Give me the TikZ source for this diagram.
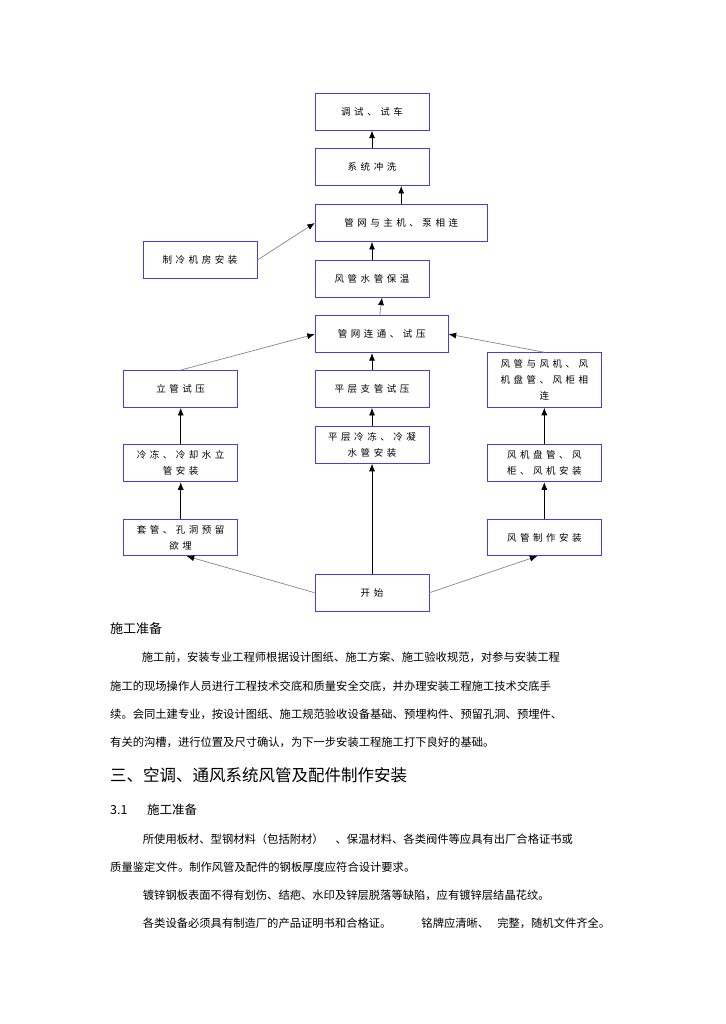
\documentclass[tikz,border=0pt]{standalone}
\usepackage{fontspec}
\setmainfont{Noto Sans CJK SC}
\newfontfamily\boxfont[LetterSpace=37]{Noto Sans CJK SC}
\usetikzlibrary{arrows.meta}

\definecolor{boxblue}{RGB}{64,64,232}
\definecolor{linegray}{RGB}{135,135,135}

\tikzset{
  stepbox/.style={draw=boxblue,line width=0.9pt,fill=white,minimum width=114pt,minimum height=37pt,
    inner sep=1pt,align=center,font=\boxfont\fontsize{9.5}{16}\selectfont},
  up/.style={draw=black,line width=0.7pt,-{Latex[length=7.5pt,width=6pt]}},
  slant/.style={draw=linegray,line width=0.7pt,-{Latex[length=7.5pt,width=6pt,color=black]}},
  bodytext/.style={anchor=west,inner sep=0pt,font=\fontsize{11.3}{13}\selectfont}
}

\begin{document}
\begin{tikzpicture}[x=1pt,y=-1pt]
\useasboundingbox[fill=white] (0,0) rectangle (725,1024);

\node[stepbox] (tiaoshi) at (372,111.7) {调试、试车};
\node[stepbox] (chongxi) at (372,167) {系统冲洗};
\node[stepbox,minimum width=172pt] (zhuji) at (401.2,223) {管网与主机、泵相连};
\node[stepbox] (jifang) at (200,260) {制冷机房安装};
\node[stepbox] (baowen) at (372,278.7) {风管水管保温};
\node[stepbox,minimum width=133pt] (liantong) at (381.7,334.2) {管网连通、试压};

\node[stepbox] (ligu) at (180.7,389) {立管试压};
\node[stepbox] (zhiguan) at (372,389) {平层支管试压};
\node[stepbox,minimum height=54.6pt] (fengji) at (544.3,380) {风管与风机、风\\机盘管、风柜相\\连};

\node[stepbox] (liguan) at (180.7,463.3) {冷冻、冷却水立\\管安装};
\node[stepbox] (pingceng) at (372,444.8) {平层冷冻、冷凝\\水管安装};
\node[stepbox] (panguan) at (544.3,463.3) {风机盘管、风\\柜、风机安装};

\node[stepbox,minimum height=36.4pt] (taoguan) at (180.7,537.5) {套管、孔洞预留\\欲埋};
\node[stepbox,minimum height=36.4pt] (zhizuo) at (544.3,537.5) {风管制作安装};
\node[stepbox] (kaishi) at (372,592.7) {开始};

\draw[up] (chongxi) -- (tiaoshi);
\draw[up] (zhuji.north) -- (zhuji.north |- chongxi.south);
\draw[up] (baowen) -- (baowen.south |- zhuji.south);
\draw[slant] (jifang.east) -- (zhuji.west);
\draw[slant] ([xshift=-2pt]liantong.north) -- ([xshift=10pt]baowen.south);

\draw[slant] (ligu.north) -- (liantong.west);
\draw[up] (zhiguan.north) -- (zhiguan.north |- liantong.south);
\draw[slant] (fengji.north) -- (liantong.east);

\draw[up] (liguan) -- (ligu);
\draw[up] (pingceng) -- (zhiguan);
\draw[up] (panguan) -- (fengji);

\draw[up] (taoguan) -- (liguan);
\draw[up] (kaishi) -- (pingceng);
\draw[up] (zhizuo) -- (panguan);

\draw[slant] (kaishi.west) -- ([xshift=6pt]taoguan.south);
\draw[slant] (kaishi.east) -- ([xshift=-7pt]zhizuo.south);

\node[bodytext,font=\fontsize{13}{15}\selectfont] (zhunbei) at (110,628.3) {施工准备};
\node[bodytext] (para1) at (141.7,657.7) {施工前，安装专业工程师根据设计图纸、施工方案、施工验收规范，对参与安装工程};
\node[bodytext] (para2) at (110,686) {施工的现场操作人员进行工程技术交底和质量安全交底，并办理安装工程施工技术交底手};
\node[bodytext] (para3) at (110,714) {续。会同土建专业，按设计图纸、施工规范验收设备基础、预埋构件、预留孔洞、预埋件、};
\node[bodytext] (para4) at (110,742) {有关的沟槽，进行位置及尺寸确认，为下一步安装工程施工打下良好的基础。};

\node[bodytext,font=\fontsize{16.5}{18}\selectfont] (sanbiaoti) at (110,775.7) {三、空调、通风系统风管及配件制作安装};
\node[bodytext,font=\fontsize{12.5}{14}\selectfont] (hao) at (110,810) {3.1};
\node[bodytext,font=\fontsize{12.5}{14}\selectfont] (zhunbeib) at (147,810) {施工准备};

\node[bodytext] (parab1) at (142.7,839.3) {所使用板材、型钢材料（包括附材）\hspace{12pt}、保温材料、各类阀件等应具有出厂合格证书或};
\node[bodytext] (parab2) at (110,866.7) {质量鉴定文件。制作风管及配件的钢板厚度应符合设计要求。};
\node[bodytext] (parab3) at (142.7,895) {镀锌钢板表面不得有划伤、结疤、水印及锌层脱落等缺陷，应有镀锌层结晶花纹。};
\node[bodytext] (parab4) at (142.7,923.3) {各类设备必须具有制造厂的产品证明书和合格证。\hspace{30pt}铭牌应清晰、\hspace{8pt}完整，随机文件齐全。};
\end{tikzpicture}
\end{document}
